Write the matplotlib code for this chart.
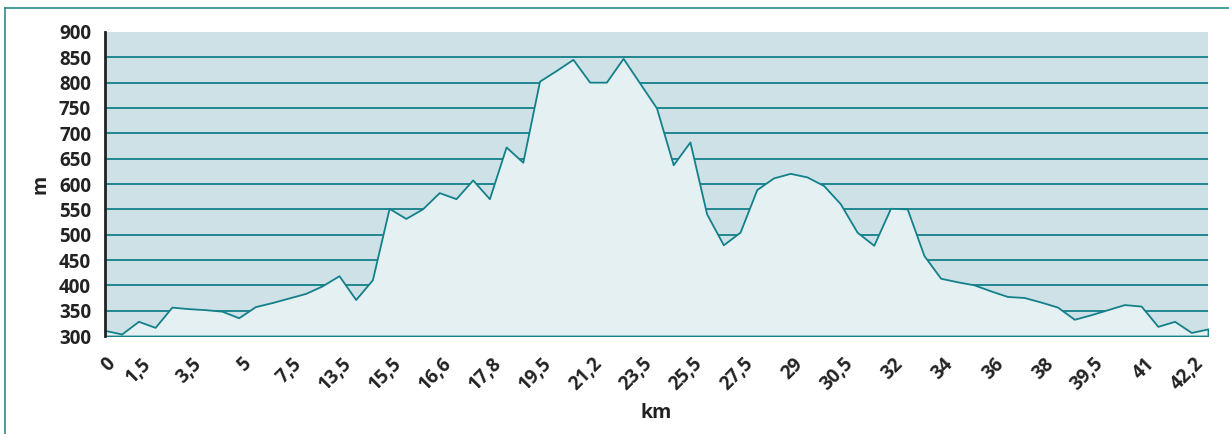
import numpy as np
import matplotlib
matplotlib.use('Agg')
import matplotlib.pyplot as plt
import matplotlib.transforms as mtransforms
from matplotlib.lines import Line2D

plt.rcParams['font.family'] = ['Open Sans', 'DejaVu Sans']

# elevation profile, one point every third of a tick step
altitude = [311, 304, 329, 317, 357, 354, 352, 349, 336, 358,
            366, 375, 384, 399, 419, 372, 411, 552, 532, 551,
            583, 571, 608, 571, 673, 643, 803, 824, 846, 801,
            801, 848, 799, 750, 638, 683, 541, 480, 505, 589,
            612, 621, 614, 597, 561, 505, 479, 552, 551, 459,
            414, 407, 401, 389, 378, 376, 367, 357, 333, 342,
            352, 362, 359, 319, 329, 307, 314]

km_labels = ['0', '1,5', '3,5', '5', '7,5', '13,5', '15,5', '16,6', '17,8',
             '19,5', '21,2', '23,5', '25,5', '27,5', '29', '30,5', '32',
             '34', '36', '38', '39,5', '41', '42,2']

y_ticks = [300, 350, 400, 450, 500, 550, 600, 650, 700, 750, 800, 850, 900]

teal = '#13808a'
x = np.arange(len(altitude)) / 3.0

fig = plt.figure(figsize=(12.29, 4.34), dpi=100)
ax = fig.add_axes([105/1229, 98/434, 1103/1229, 304/434])
ax.set_facecolor('#cde1e6')

for v in y_ticks[:-1]:
    ax.axhline(v, color=teal, lw=1.3, zorder=1)

ax.fill_between(x, 300, altitude, facecolor='#e5f0f2', edgecolor=teal,
                lw=1.3, zorder=2)

ax.set_xlim(0, len(km_labels) - 1)
ax.set_ylim(300, 900)
ax.set_yticks(y_ticks)
ax.set_yticklabels([str(v) for v in y_ticks], fontsize=13.5,
                   fontweight='bold', color='#222222')
ax.set_xticks(range(len(km_labels)))
ax.set_xticklabels(km_labels, fontsize=13.5, fontweight='bold',
                   color='#222222', rotation=45, ha='right', va='top',
                   rotation_mode='anchor')
ax.tick_params(axis='y', length=0, pad=10)
ax.tick_params(axis='x', length=0, pad=13)

# nudge the slanted km labels to the left (the first one stays put)
for i, lab in enumerate(ax.get_xticklabels()):
    dx = 0 if i == 0 else -14
    shift = mtransforms.ScaledTranslation(dx/100, 0, fig.dpi_scale_trans)
    lab.set_transform(lab.get_transform() + shift)

for s in ['top', 'right', 'bottom']:
    ax.spines[s].set_visible(False)
ax.spines['left'].set_color('#222222')
ax.spines['left'].set_linewidth(2)
ax.spines['left'].set_zorder(3)

ax.set_ylabel('m', fontsize=14, fontweight='bold', color='#222222', labelpad=6)
fig.text(656/1229, 1 - 413/434, 'km', fontsize=14, fontweight='bold',
         color='#222222', ha='center', va='center')

# frame around the chart (open to the right and bottom)
fig.add_artist(Line2D([5/1229, 1], [1 - 8/434, 1 - 8/434],
                      transform=fig.transFigure, color='#2a8c8c', lw=1.2))
fig.add_artist(Line2D([5/1229, 5/1229], [0, 1 - 8/434],
                      transform=fig.transFigure, color='#2a8c8c', lw=1.2))

fig.savefig('out.png', dpi=100)
